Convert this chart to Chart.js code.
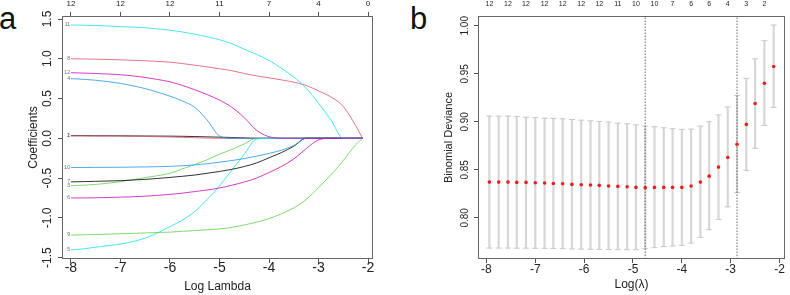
<!DOCTYPE html>
<html>
<head>
<meta charset="utf-8">
<script src="https://cdn.jsdelivr.net/npm/chart.js@4.4.1/dist/chart.umd.min.js"></script>
<style>
  body { margin: 0; background: #fff; width: 790px; height: 295px; position: relative; overflow: hidden; font-family: "Liberation Sans", Arial, sans-serif; }
  canvas { position: absolute; top: 0; }
  #chartA { left: 0; }
  #chartB { left: 395px; }
  .tag { position: absolute; top: 3px; font-size: 31px; line-height: 1; color: #111; }
</style>
</head>
<body>
<div class="tag" style="left:-1px">a</div>
<div class="tag" style="left:410px">b</div>
<canvas id="chartA" width="395" height="295" style="width:395px;height:295px"></canvas>
<canvas id="chartB" width="395" height="295" style="width:395px;height:295px"></canvas>
<script>
// ---- panel a: lasso coefficient paths ----
const logLambda = [-8, -7.75, -7.5, -7.25, -7, -6.75, -6.5, -6.25, -6, -5.75, -5.5, -5.25, -5, -4.75, -4.5, -4.25, -4, -3.75, -3.5, -3.25, -3, -2.75, -2.5, -2.25, -2.11]
const coef1  = [0.033, 0.033, 0.032, 0.032, 0.031, 0.030, 0.029, 0.028, 0.027, 0.025, 0.022, 0.018, 0.014, 0.010, 0.005, 0, 0, 0, 0, 0, 0, 0, 0, 0, 0]
const coef2  = [0.030, 0.030, 0.029, 0.029, 0.028, 0.026, 0.023, 0.020, 0.016, 0.012, 0.007, 0.003, 0, 0, 0, 0, 0, 0, 0, 0, 0, 0, 0, 0, 0]
const coef3  = [-0.596, -0.59, -0.58, -0.565, -0.545, -0.52, -0.495, -0.47, -0.44, -0.385, -0.33, -0.27, -0.20, -0.14, -0.07, 0, 0, 0, 0, 0, 0, 0, 0, 0, 0]
const coef4  = [0.75, 0.742, 0.73, 0.712, 0.69, 0.66, 0.625, 0.58, 0.53, 0.47, 0.39, 0.23, 0.03, 0, 0, 0, 0, 0, 0, 0, 0, 0, 0, 0, 0]
const coef5  = [-1.405, -1.39, -1.37, -1.35, -1.33, -1.30, -1.255, -1.19, -1.11, -1.03, -0.92, -0.77, -0.60, -0.40, -0.20, -0.01, 0, 0, 0, 0, 0, 0, 0, 0, 0]
const coef6  = [-0.75, -0.75, -0.748, -0.745, -0.74, -0.735, -0.728, -0.718, -0.705, -0.69, -0.67, -0.65, -0.625, -0.59, -0.55, -0.50, -0.43, -0.355, -0.26, -0.13, -0.02, 0, 0, 0, 0]
const coef7  = [-0.548, -0.545, -0.541, -0.537, -0.533, -0.525, -0.517, -0.505, -0.492, -0.478, -0.462, -0.44, -0.417, -0.39, -0.355, -0.31, -0.245, -0.18, -0.10, 0, 0, 0, 0, 0, 0]
const coef8  = [1.0, 0.998, 0.995, 0.991, 0.987, 0.981, 0.975, 0.967, 0.958, 0.94, 0.92, 0.898, 0.875, 0.85, 0.815, 0.785, 0.76, 0.735, 0.705, 0.665, 0.595, 0.52, 0.40, 0.16, 0]
const coef9  = [-1.217, -1.214, -1.21, -1.205, -1.2, -1.196, -1.19, -1.185, -1.18, -1.17, -1.16, -1.15, -1.14, -1.12, -1.09, -1.055, -1.01, -0.95, -0.875, -0.77, -0.62, -0.46, -0.28, -0.08, 0]
const coef10 = [-0.367, -0.367, -0.366, -0.365, -0.364, -0.362, -0.36, -0.357, -0.353, -0.345, -0.335, -0.32, -0.30, -0.28, -0.255, -0.225, -0.19, -0.15, -0.09, 0, 0, 0, 0, 0, 0]
const coef11 = [1.425, 1.422, 1.418, 1.412, 1.405, 1.398, 1.39, 1.377, 1.36, 1.337, 1.31, 1.277, 1.24, 1.19, 1.12, 1.055, 0.98, 0.88, 0.77, 0.63, 0.44, 0.23, 0, 0, 0]
const coef12 = [0.825, 0.82, 0.815, 0.808, 0.80, 0.785, 0.765, 0.74, 0.71, 0.665, 0.61, 0.55, 0.48, 0.39, 0.26, 0.10, 0.02, 0, 0, 0, 0, 0, 0, 0, 0]
const coefPaths = [coef1, coef2, coef3, coef4, coef5, coef6, coef7, coef8, coef9, coef10, coef11, coef12]

const ticksA = [-8, -7, -6, -5, -4, -3, -2]
const dfTopA = ['12', '12', '12', '11', '7', '4', '0']
const coefTicks = [-1.5, -1.0, -0.5, 0.0, 0.5, 1.0, 1.5]

// ---- panel b: cross-validated binomial deviance ----
const cvLogLambda = [-7.94, -7.75, -7.56, -7.38, -7.19, -7.00, -6.81, -6.63, -6.44, -6.25, -6.06, -5.87, -5.69, -5.50, -5.31, -5.12, -4.94, -4.75, -4.56, -4.37, -4.19, -4.00, -3.81, -3.62, -3.44, -3.25, -3.06, -2.87, -2.68, -2.50, -2.31, -2.12]
const cvMean  = [0.8372, 0.8372, 0.8372, 0.8369, 0.8369, 0.8365, 0.8362, 0.8358, 0.8355, 0.8348, 0.8345, 0.8341, 0.8338, 0.8331, 0.8327, 0.8324, 0.8317, 0.8314, 0.8317, 0.8317, 0.8317, 0.8317, 0.8331, 0.8372, 0.8434, 0.8528, 0.8628, 0.8766, 0.8973, 0.9190, 0.9401, 0.9576]
const cvUpper = [0.9059, 0.9059, 0.9059, 0.9055, 0.9048, 0.9045, 0.9038, 0.9035, 0.9031, 0.9024, 0.9017, 0.9010, 0.9004, 0.8997, 0.8986, 0.8979, 0.8968, 0.8955, 0.8948, 0.8938, 0.8928, 0.8921, 0.8924, 0.8955, 0.9000, 0.9072, 0.9155, 0.9273, 0.9452, 0.9656, 0.9845, 1.0008]
const cvLower = [0.7685, 0.7685, 0.7685, 0.7684, 0.7684, 0.7683, 0.7682, 0.7681, 0.7679, 0.7676, 0.7674, 0.7672, 0.7671, 0.7669, 0.7668, 0.7668, 0.7668, 0.7679, 0.7689, 0.7700, 0.7707, 0.7713, 0.7737, 0.7796, 0.7876, 0.7983, 0.8114, 0.8262, 0.8494, 0.8724, 0.8962, 0.9150]
const dfTopB = ['12', '12', '12', '12', '12', '12', '12', '11', '10', '10', '7', '6', '6', '4', '3', '2']
const ticksB = [-8, -7, -6, -5, -4, -3, -2]
const devTicks = [0.80, 0.85, 0.90, 0.95, 1.00]
const lambdaMinIdx = 17
const lambda1seIdx = 27

// R palette 1:6, a touch softened like the scanned figure
const pathColors = ['rgba(0,0,0,0.8)', 'rgba(223,83,107,0.8)', 'rgba(97,208,79,0.8)', 'rgba(34,151,230,0.8)', 'rgba(40,226,229,0.85)', 'rgba(205,11,188,0.8)']
const FONT = "'Liberation Sans', Arial, sans-serif"
const INK = '#222'
const AXIS = '#555'

// R-style box around the plot region
const boxPlugin = {
    id: 'box',
    afterDraw(chart){
        const {ctx, chartArea: a} = chart
        ctx.save()
        ctx.strokeStyle = '#666'
        ctx.lineWidth = 1
        ctx.strokeRect(a.left + 0.5, a.top + 0.5, a.width - 1, a.height - 1)
        ctx.restore()
    }
}

// tiny variable numbers at the left end of each path
const varLabels = {
    id: 'varLabels',
    afterDatasetsDraw(chart){
        const {ctx, scales: {x, y}} = chart
        ctx.save()
        ctx.font = "5px " + FONT
        ctx.fillStyle = '#666'
        ctx.textAlign = 'right'
        ctx.textBaseline = 'middle'
        coefPaths.forEach((p, i) => {
            ctx.fillText(String(i + 1), x.getPixelForValue(logLambda[0]) - 1, y.getPixelForValue(p[0]))
        })
        ctx.restore()
    }
}

const setTicks = vals => scale => { scale.ticks = vals.map(v => ({value: v})) }

new Chart(document.getElementById('chartA').getContext('2d'), {
    type: 'line',
    data: {
        datasets: coefPaths.map((p, i) => ({
            data: logLambda.map((v, k) => ({x: v, y: p[k]})),
            borderColor: pathColors[i % 6],
            borderWidth: 1,
            pointRadius: 0,
            cubicInterpolationMode: 'monotone',
            order: 12 - i,
        }))
    },
    options: {
        responsive: false,
        animation: false,
        events: [],
        layout: {padding: {left: 0, right: 22, top: 0, bottom: 0}},
        plugins: {legend: {display: false}, tooltip: {enabled: false}},
        scales: {
            x: {
                type: 'linear', position: 'bottom', min: -8.18, max: -1.9,
                afterBuildTicks: setTicks(ticksA),
                afterFit: s => { s.height = 36 },
                grid: {drawOnChartArea: false, tickLength: 4, color: AXIS},
                border: {display: false},
                ticks: {font: {family: FONT, size: 14, lineHeight: 1}, color: INK, padding: -2, maxRotation: 0, autoSkip: false, callback: v => String(v)},
                title: {display: true, text: 'Log Lambda', color: INK, font: {family: FONT, size: 12}, padding: {top: 0, bottom: 1}}
            },
            x2: {
                type: 'linear', position: 'top', min: -8.18, max: -1.9,
                afterBuildTicks: setTicks(ticksA),
                afterFit: s => { s.height = 16 },
                grid: {drawOnChartArea: false, tickLength: 4, color: AXIS},
                border: {display: false},
                ticks: {font: {family: FONT, size: 8, lineHeight: 1}, color: INK, padding: 4, maxRotation: 0, autoSkip: false, callback: (v, i) => dfTopA[i]}
            },
            y: {
                type: 'linear', position: 'left', min: -1.518, max: 1.538,
                afterBuildTicks: setTicks(coefTicks),
                afterFit: s => { s.width = 62 },
                grid: {drawOnChartArea: false, tickLength: 4, color: AXIS},
                border: {display: false},
                ticks: {font: {family: FONT, size: 12}, color: INK, padding: 0, minRotation: 90, maxRotation: 90, crossAlign: 'center', autoSkip: false, callback: v => v.toFixed(1)},
                title: {display: true, text: 'Coefficients', color: INK, font: {family: FONT, size: 12}, padding: {top: 26, bottom: 0}}
            }
        }
    },
    plugins: [boxPlugin, varLabels]
})

const yMinB = 0.7571
const yMaxB = 1.0102
const vline = idx => ({
    type: 'line',
    data: [{x: cvLogLambda[idx], y: yMinB}, {x: cvLogLambda[idx], y: yMaxB}],
    borderColor: '#666', borderWidth: 1, borderDash: [1.5, 1.5],
    pointRadius: 0, showLine: true, order: 1,
})

new Chart(document.getElementById('chartB').getContext('2d'), {
    type: 'scatter',
    data: {
        datasets: [
            {
                type: 'bar',
                data: cvLogLambda.map((v, i) => ({x: v, y: [cvLower[i], cvUpper[i]]})),
                backgroundColor: '#d6d6d6', barThickness: 1.5, order: 3,
            },
            {
                type: 'scatter',
                data: cvLogLambda.map((v, i) => ({x: v, y: cvUpper[i]})),
                pointStyle: 'line', pointRadius: 3, pointBorderColor: '#c8c8c8', pointBorderWidth: 1, order: 2,
            },
            {
                type: 'scatter',
                data: cvLogLambda.map((v, i) => ({x: v, y: cvLower[i]})),
                pointStyle: 'line', pointRadius: 3, pointBorderColor: '#c8c8c8', pointBorderWidth: 1, order: 2,
            },
            vline(lambdaMinIdx),
            vline(lambda1seIdx),
            {
                type: 'scatter',
                data: cvLogLambda.map((v, i) => ({x: v, y: cvMean[i]})),
                pointRadius: 1.8, pointBackgroundColor: '#ee1c1c', pointBorderWidth: 0, order: 0,
            },
        ]
    },
    options: {
        responsive: false,
        animation: false,
        events: [],
        layout: {padding: {left: 0, right: 2, top: 0, bottom: 0}},
        plugins: {legend: {display: false}, tooltip: {enabled: false}},
        scales: {
            x: {
                type: 'linear', position: 'bottom', min: -8.173, max: -1.888, offset: false,
                afterBuildTicks: setTicks(ticksB),
                afterFit: s => { s.height = 36 },
                grid: {drawOnChartArea: false, offset: false, tickLength: 4, color: AXIS},
                border: {display: false},
                ticks: {font: {family: FONT, size: 12, lineHeight: 1}, color: INK, padding: 1, maxRotation: 0, autoSkip: false, callback: v => String(v)},
                title: {display: true, text: 'Log(λ)', color: INK, font: {family: FONT, size: 12}, padding: {top: 0, bottom: 3}}
            },
            x2: {
                type: 'linear', position: 'top', min: -8.173, max: -1.888, offset: false,
                afterBuildTicks: setTicks(cvLogLambda.filter((v, i) => i % 2 === 0)),
                afterFit: s => { s.height = 16 },
                grid: {drawOnChartArea: false, drawTicks: false, offset: false},
                border: {display: false},
                ticks: {font: {family: FONT, size: 7, lineHeight: 1}, color: INK, padding: 8, maxRotation: 0, autoSkip: false, callback: (v, i) => dfTopB[i]}
            },
            y: {
                type: 'linear', position: 'left', min: yMinB, max: yMaxB,
                afterBuildTicks: setTicks(devTicks),
                afterFit: s => { s.width = 83 },
                grid: {drawOnChartArea: false, tickLength: 4, color: AXIS},
                border: {display: false},
                ticks: {font: {family: FONT, size: 10}, color: INK, padding: -1, minRotation: 90, maxRotation: 90, crossAlign: 'center', autoSkip: false, callback: v => v.toFixed(2)},
                title: {display: true, text: 'Binomial Deviance', color: INK, font: {family: FONT, size: 11}, padding: {top: 47, bottom: 0}}
            }
        }
    },
    plugins: [boxPlugin]
})
</script>
</body>
</html>
